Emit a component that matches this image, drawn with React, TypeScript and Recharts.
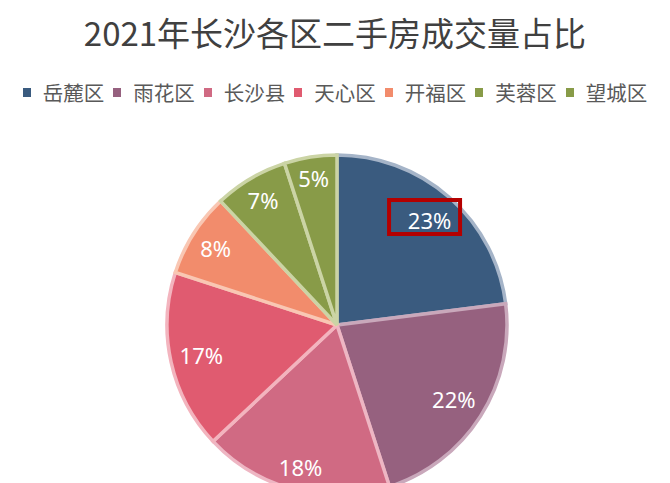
import { PieChart, Pie, Cell } from 'recharts'

const districts = ['岳麓区', '雨花区', '长沙县', '天心区', '开福区', '芙蓉区', '望城区']
const shares = [23, 22, 18, 17, 8, 7, 5]
const fills = ['#3A5B7F', '#96617F', '#D06A83', '#E05B70', '#F28C6C', '#889B48', '#889B48']
const borders = ['#A5B4C8', '#C9A8BB', '#EEB6C3', '#F3B4BE', '#F9C7B3', '#CBD4A5', '#CBD4A5']

const data = districts.map((name, i) => ({ name, value: shares[i] }))

const RADIAN = Math.PI / 180

// labels sit "inside end": the text box is pushed in from the rim
const renderLabel = (props: any) => {
  const { cx, cy, midAngle, outerRadius, value, index } = props
  const dx = Math.cos(-midAngle * RADIAN)
  const dy = Math.sin(-midAngle * RADIAN)
  const hw = String(value).length * 6.3 + 9
  const hh = 11
  const r = outerRadius - 7.5 - (Math.abs(dx) * hw + Math.abs(dy) * hh)
  const x = cx + r * dx
  const y = cy + r * dy
  return (
    <g>
      {index === 0 && (
        <rect x={x - 40.5} y={y - 20} width={71} height={34} fill="none" stroke="#B40000" strokeWidth={4} />
      )}
      <text
        x={x}
        y={y}
        fill="#fff"
        fontSize={22}
        fontFamily="'Noto Sans', 'Noto Sans CJK SC', sans-serif"
        textAnchor="middle"
        dominantBaseline="central"
      >
        {value}%
      </text>
    </g>
  )
}

export default function App() {
  return (
    <div style={{ position: 'absolute', left: 0, top: 0, width: 670, height: 483, background: '#fff', overflow: 'hidden' }}>
      <div
        style={{
          position: 'absolute',
          top: 8,
          width: 670,
          textAlign: 'center',
          fontSize: 33,
          color: '#404040',
          fontFamily: "'Noto Sans CJK SC', sans-serif",
          lineHeight: '48px',
        }}
      >
        2021年长沙各区二手房成交量占比
      </div>
      <div
        style={{
          position: 'absolute',
          top: 78,
          left: 0,
          width: 670,
          display: 'flex',
          justifyContent: 'center',
          fontFamily: "'Noto Sans CJK SC', sans-serif",
          lineHeight: '28px',
        }}
      >
        {districts.map((d, i) => (
          <div key={d} style={{ display: 'flex', alignItems: 'center', marginRight: i < districts.length - 1 ? 9 : 0 }}>
            <span style={{ width: 8, height: 9, background: fills[i], marginRight: 12, display: 'inline-block' }} />
            <span style={{ fontSize: 20.5, color: '#595959' }}>{d}</span>
          </div>
        ))}
      </div>
      <div style={{ position: 'absolute', left: 0, top: 0 }}>
        <PieChart width={670} height={483} margin={{ top: 0, right: 0, bottom: 0, left: 0 }}>
          <Pie
            data={data}
            dataKey="value"
            nameKey="name"
            cx={337}
            cy={325}
            outerRadius={170}
            startAngle={90}
            endAngle={-270}
            label={renderLabel}
            labelLine={false}
            isAnimationActive={false}
          >
            {data.map((d, i) => (
              <Cell key={d.name} fill={fills[i]} stroke={borders[i]} strokeWidth={3.5} />
            ))}
          </Pie>
        </PieChart>
      </div>
    </div>
  )
}
